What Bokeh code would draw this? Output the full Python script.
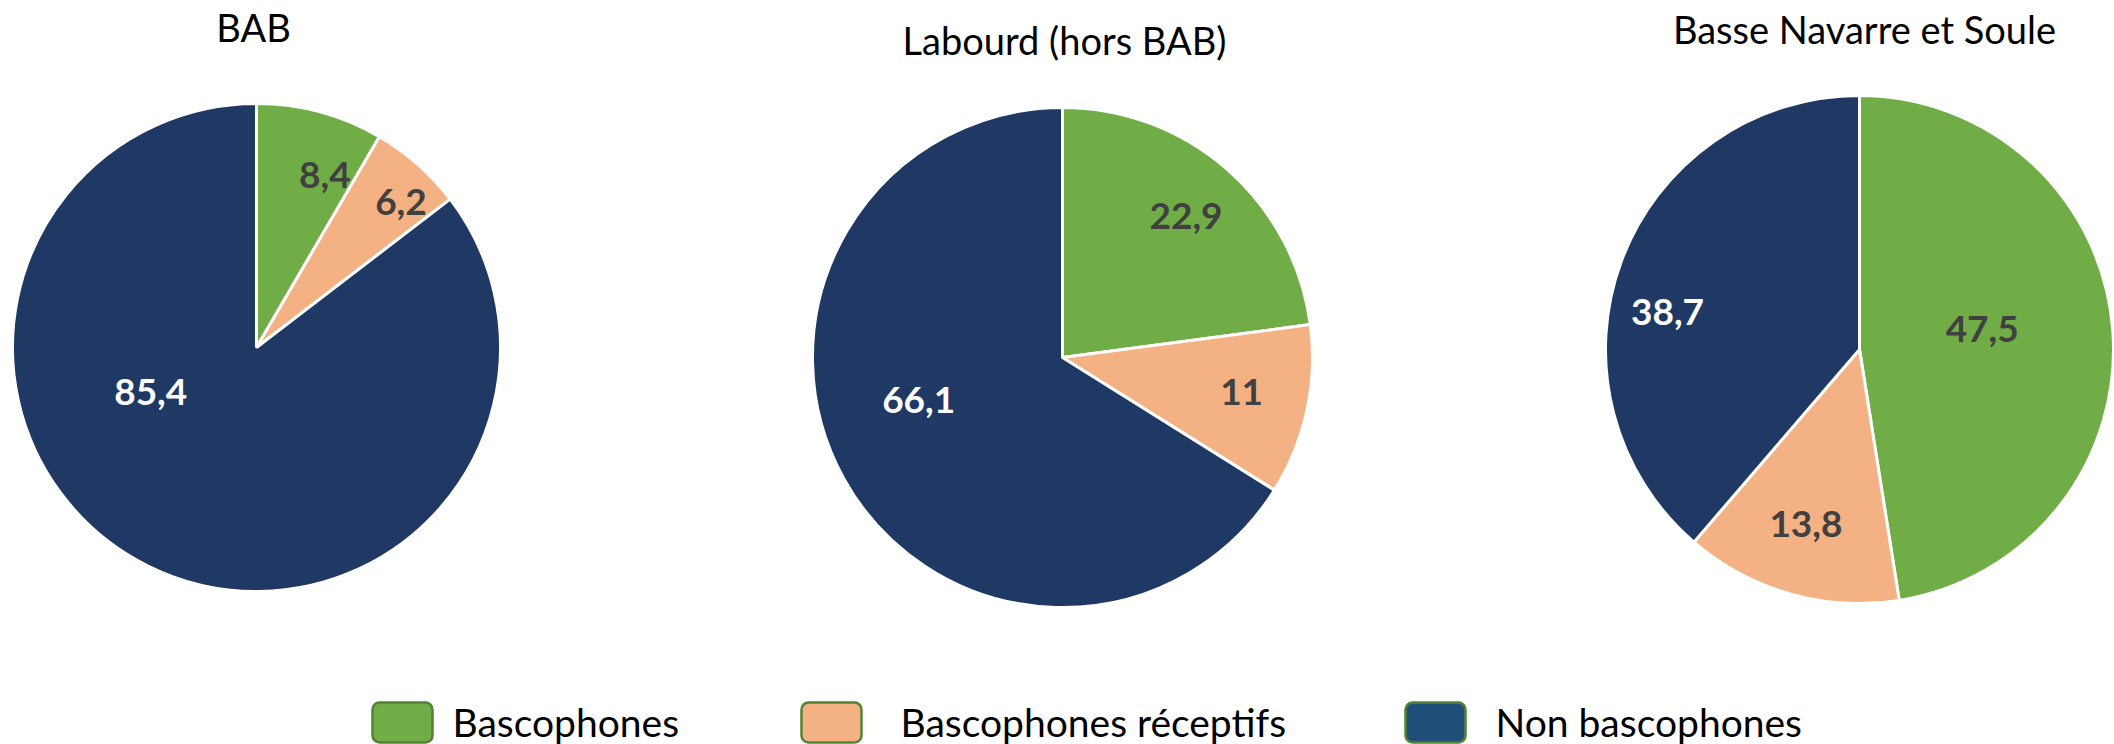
import math
from bokeh.plotting import figure
from bokeh.models import Range1d, ColumnDataSource
from bokeh.embed import file_html
from bokeh.resources import INLINE
from bokeh.core.properties import value

# ---------------- data ----------------
categories = ["Bascophones", "Bascophones réceptifs", "Non bascophones"]
titles = ["BAB", "Labourd (hors BAB)", "Basse Navarre et Soule"]
bab = [8.4, 6.2, 85.4]
labourd = [22.9, 11.0, 66.1]
basse_navarre_soule = [47.5, 13.8, 38.7]
series = [bab, labourd, basse_navarre_soule]

# ---------------- style / layout ----------------
slice_colors = ["#70AD47", "#F4B183", "#203864"]
legend_colors = ["#70AD47", "#F4B183", "#1F4E79"]
label_colors = ["#404040", "#404040", "#FFFFFF"]
FONT = "Lato"

W, H = 2114, 744


def Y(page_y):
    return H - page_y


centers = [(256, 347), (1062, 357), (1859, 349)]
radii = [244, 250, 254]
title_pos = [(253, 26), (1064, 39), (1864, 28)]
# label placement tweaks (radial fraction, angle offset in degrees)
label_frac = [[0.76, 0.84, 0.47], [0.75, 0.73, 0.60], [0.49, 0.72, 0.77]]
label_dang = [[6.5, 3.4, 41.0], [0.0, -1.2, 12.5], [-5.2, 1.2, -9.4]]

legend_left = [372, 801, 1405]
legend_text_x = [452, 900, 1495]
legend_top, legend_bottom = 702, 742
legend_text_y = 721

p = figure(width=W, height=H, x_range=Range1d(0, W), y_range=Range1d(0, H),
           output_backend="svg", toolbar_location=None, min_border=0,
           x_axis_location=None, y_axis_location=None)
p.grid.visible = False
p.outline_line_color = None
p.background_fill_color = "white"
p.border_fill_color = "white"

for i, vals in enumerate(series):
    total = sum(vals)
    cx, cy = centers[i]
    r = radii[i]
    starts, ends, lx, ly, texts = [], [], [], [], []
    cum = 0.0
    for j, v in enumerate(vals):
        a0 = math.pi / 2 - 2 * math.pi * cum / total
        a1 = math.pi / 2 - 2 * math.pi * (cum + v) / total
        starts.append(a0)
        ends.append(a1)
        mid_deg = 360.0 * (cum + v / 2) / total + label_dang[i][j]  # clockwise from top
        rad = math.radians(mid_deg)
        dist = r * label_frac[i][j]
        lx.append(cx + dist * math.sin(rad))
        ly.append(Y(cy) + dist * math.cos(rad))
        texts.append(("%g" % v).replace(".", ","))
        cum += v
    src = ColumnDataSource(dict(start=starts, end=ends, color=slice_colors))
    p.wedge(x=cx, y=Y(cy), radius=r, start_angle="start", end_angle="end",
            direction="clock", fill_color="color", line_color="white", line_width=3,
            source=src)
    lsrc = ColumnDataSource(dict(x=lx, y=ly, text=texts, color=label_colors))
    p.text(x="x", y="y", text="text", source=lsrc, text_align="center",
           text_baseline="middle", text_font=value(FONT), text_font_style="bold",
           text_font_size="37px", text_color="color")
    p.text(x=[title_pos[i][0]], y=[Y(title_pos[i][1])], text=[titles[i]],
           text_align="center", text_baseline="middle", text_font=value(FONT),
           text_font_size="38px", text_color="#000000")

# legend
lsrc = ColumnDataSource(dict(
    left=legend_left, right=[l + 60 for l in legend_left],
    top=[Y(legend_top)] * 3, bottom=[Y(legend_bottom)] * 3, color=legend_colors))
p.quad(left="left", right="right", top="top", bottom="bottom", source=lsrc,
       fill_color="color", line_color="#548235", line_width=2.5, border_radius=7)
p.text(x=legend_text_x, y=[Y(legend_text_y)] * 3, text=categories,
       text_align="left", text_baseline="middle", text_font=value(FONT),
       text_font_size="39px", text_color="#000000")

open("out.html", "w").write(file_html(p, INLINE))
